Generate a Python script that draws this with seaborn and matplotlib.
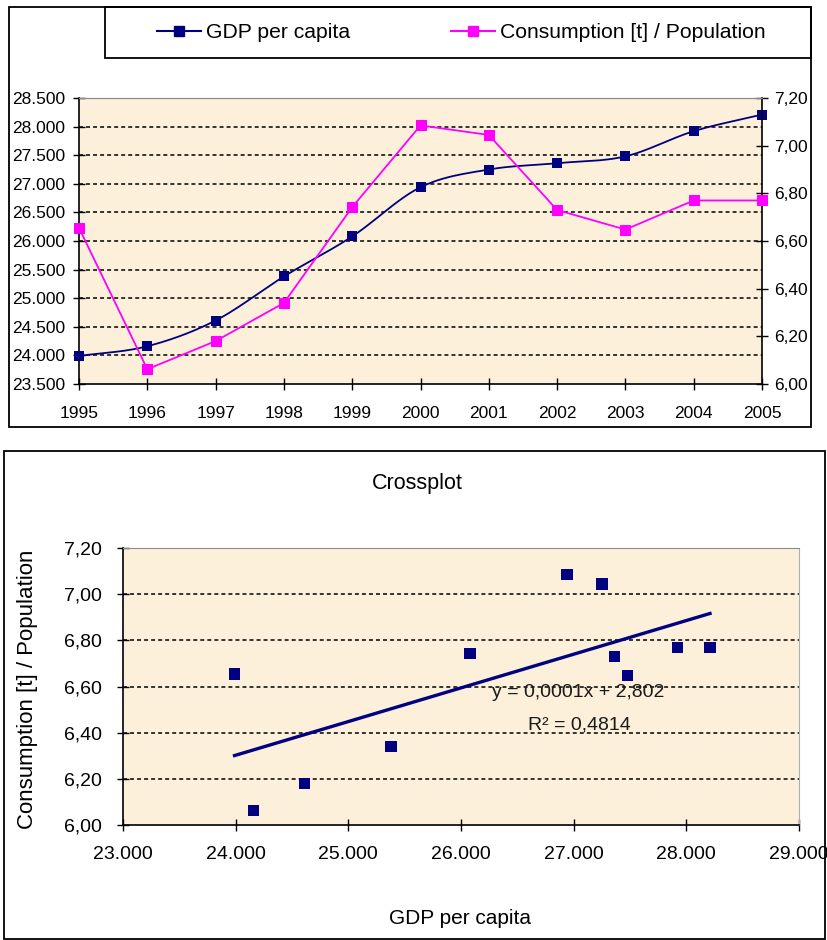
import numpy as np
import matplotlib
matplotlib.use("Agg")
import matplotlib.pyplot as plt
from matplotlib.lines import Line2D
from matplotlib.patches import Rectangle
from matplotlib.ticker import FuncFormatter, FixedLocator
import seaborn as sns

# ---- data -------------------------------------------------------------
years = [1995, 1996, 1997, 1998, 1999, 2000, 2001, 2002, 2003, 2004, 2005]
gdp_per_capita = [23990, 24160, 24610, 25380, 26080, 26940, 27250, 27360, 27480, 27920, 28210]
consumption_per_pop = [6.655, 6.062, 6.18, 6.34, 6.742, 7.085, 7.045, 6.73, 6.648, 6.77, 6.77]

gdp_ticks = [23500, 24000, 24500, 25000, 25500, 26000, 26500, 27000, 27500, 28000, 28500]
cons_ticks = [6.00, 6.20, 6.40, 6.60, 6.80, 7.00, 7.20]
cross_x_ticks = [23000, 24000, 25000, 26000, 27000, 28000, 29000]

label_gdp = "GDP per capita"
label_cons = "Consumption [t] / Population"
title_cross = "Crossplot"

# ---- style ------------------------------------------------------------
plt.rcParams["font.family"] = ["Liberation Sans", "DejaVu Sans"]
NAVY = "#000080"
MAGENTA = "#FF00FF"
PANEL_BG = "#FCF0DA"
GRID_DASH = (0, (2.6, 2.0))

W, H = 827, 940
fig = plt.figure(figsize=(W / 100, H / 100), dpi=100)


def fx(px):
    return px / W


def fy(py):
    return 1 - py / H


def frame(x0, y0, x1, y1, lw=1.3):
    fig.add_artist(Rectangle((fx(x0), fy(y1)), fx(x1) - fx(x0), fy(y0) - fy(y1),
                             transform=fig.transFigure, fill=False,
                             edgecolor="black", linewidth=lw, zorder=0))


def thousands(v, _):
    return f"{v:,.0f}".replace(",", ".")


def two_dec(v, _):
    return f"{v:.2f}".replace(".", ",")


def smooth_curve(x, y, n=24):
    """Smoothed line through the points (cubic Bezier, Catmull-Rom style)."""
    x = np.asarray(x, float)
    y = np.asarray(y, float)
    px = np.concatenate([[2 * x[0] - x[1]], x, [2 * x[-1] - x[-2]]])
    py = np.concatenate([[2 * y[0] - y[1]], y, [2 * y[-1] - y[-2]]])
    t = np.linspace(0, 1, n, endpoint=False)[:, None]
    xs, ys = [], []
    for i in range(1, len(px) - 2):
        p0 = np.array([px[i - 1], py[i - 1]])
        p1 = np.array([px[i], py[i]])
        p2 = np.array([px[i + 1], py[i + 1]])
        p3 = np.array([px[i + 2], py[i + 2]])
        c1 = p1 + (p2 - p0) / 6
        c2 = p2 - (p3 - p1) / 6
        b = ((1 - t) ** 3) * p1 + 3 * ((1 - t) ** 2) * t * c1 + 3 * (1 - t) * t ** 2 * c2 + t ** 3 * p2
        xs.append(b[:, 0])
        ys.append(b[:, 1])
    xs.append([x[-1]])
    ys.append([y[-1]])
    return np.concatenate(xs), np.concatenate(ys)


# ---- chart frames -----------------------------------------------------
frame(9, 7, 811, 427)
frame(105, 7, 811, 58)
frame(4, 451, 825, 939)

# ---- top: time series with two y axes ---------------------------------
ax1 = fig.add_axes([fx(79), fy(384), fx(762) - fx(79), fy(98) - fy(384)])
ax1.set_facecolor(PANEL_BG)
ax1.set_xlim(years[0], years[-1])
ax1.set_ylim(gdp_ticks[0], gdp_ticks[-1])
for v in gdp_ticks[1:-1]:
    ax1.axhline(v, color="black", linewidth=1.1, linestyle=GRID_DASH, zorder=1)

sx, sy = smooth_curve(years, gdp_per_capita)
ax1.plot(sx, sy, color=NAVY, linewidth=1.3, zorder=3, clip_on=False)
sns.scatterplot(x=years, y=gdp_per_capita, marker="s", s=52, color=NAVY,
                edgecolor=NAVY, linewidth=0, ax=ax1, zorder=4, clip_on=False)

ax1.xaxis.set_major_locator(FixedLocator(years))
ax1.yaxis.set_major_locator(FixedLocator(gdp_ticks))
ax1.yaxis.set_major_formatter(FuncFormatter(thousands))
ax1.tick_params(axis="y", direction="inout", length=8, width=1, color="black",
                labelsize=12.5, pad=6, left=True)
ax1.tick_params(axis="x", direction="inout", length=8, width=1, color="black",
                labelsize=12.5, pad=12, bottom=True)
ax1.spines["top"].set_color("#8a8a8a")
ax1.spines["right"].set_visible(False)
for s in ("left", "bottom"):
    ax1.spines[s].set_color("black")
    ax1.spines[s].set_linewidth(1.2)

ax2 = ax1.twinx()
sns.lineplot(x=years, y=consumption_per_pop, color=MAGENTA, linewidth=1.3,
             marker="s", markersize=7.5, markeredgecolor=MAGENTA,
             ax=ax2, zorder=5, clip_on=False)
ax2.set_ylim(cons_ticks[0], cons_ticks[-1])
ax2.yaxis.set_major_locator(FixedLocator(cons_ticks))
ax2.yaxis.set_major_formatter(FuncFormatter(two_dec))
ax2.tick_params(axis="y", direction="inout", length=8, width=1, color="black",
                labelsize=12.5, pad=5, right=True)
ax2.set_ylabel("")
ax2.spines["top"].set_color("#8a8a8a")
ax2.spines["left"].set_visible(False)
ax2.spines["bottom"].set_visible(False)
ax2.spines["right"].set_color("black")
ax2.spines["right"].set_linewidth(1.2)

handles = [
    Line2D([], [], color=NAVY, linewidth=1.5, marker="s", markersize=6.5),
    Line2D([], [], color=MAGENTA, linewidth=1.5, marker="s", markersize=6.5),
]
fig.legend(handles, [label_gdp, label_cons], loc="center left",
           bbox_to_anchor=(fx(157), fy(33)), ncol=2, frameon=False,
           fontsize=15.2, handlelength=2.1, handletextpad=0.2,
           columnspacing=4.8, borderpad=0, borderaxespad=0)

# ---- bottom: crossplot with linear trend ------------------------------
bx = fig.add_axes([fx(123), fy(825), fx(799) - fx(123), fy(548) - fy(825)])
bx.set_facecolor(PANEL_BG)
bx.set_xlim(cross_x_ticks[0], cross_x_ticks[-1])
bx.set_ylim(cons_ticks[0], cons_ticks[-1])
for v in cons_ticks[1:-1]:
    bx.axhline(v, color="black", linewidth=1.1, linestyle=GRID_DASH, zorder=1)

sns.regplot(x=gdp_per_capita, y=consumption_per_pop, ci=None, ax=bx,
            marker="s",
            scatter_kws=dict(s=68, color=NAVY, alpha=1, edgecolors="none", zorder=4),
            line_kws=dict(color=NAVY, linewidth=2.4, zorder=3))

slope, intercept = np.polyfit(gdp_per_capita, consumption_per_pop, 1)
r2 = np.corrcoef(gdp_per_capita, consumption_per_pop)[0, 1] ** 2
eq_text = f"y = {slope:.4f}x + {intercept:.3f}".replace(".", ",")
r2_text = f"R² = {r2:.4f}".replace(".", ",")
bx.text(27040, 6.572, eq_text, ha="center", va="center", fontsize=14, color="#1a1a1a", zorder=5)
bx.text(27050, 6.433, r2_text, ha="center", va="center", fontsize=14, color="#1a1a1a", zorder=5)

bx.xaxis.set_major_locator(FixedLocator(cross_x_ticks))
bx.xaxis.set_major_formatter(FuncFormatter(thousands))
bx.yaxis.set_major_locator(FixedLocator(cons_ticks))
bx.yaxis.set_major_formatter(FuncFormatter(two_dec))
bx.tick_params(axis="y", direction="inout", length=8, width=1, color="black",
               labelsize=14, pad=11, left=True)
bx.tick_params(axis="x", direction="inout", length=8, width=1, color="black",
               labelsize=14, pad=11, bottom=True)
bx.spines["top"].set_color("#8a8a8a")
bx.spines["right"].set_color("#b0b0b0")
for s in ("left", "bottom"):
    bx.spines[s].set_color("black")
    bx.spines[s].set_linewidth(1.2)

bx.set_xlabel(label_gdp, fontsize=15)
bx.xaxis.set_label_coords((460 - 123) / 676, (825 - 909) / 277)
bx.set_ylabel(label_cons, fontsize=16)
bx.yaxis.set_label_coords((38 - 123) / 676, (825 - 689) / 277)
fig.text(fx(417), fy(483), title_cross, ha="center", va="center", fontsize=15.5)

fig.savefig("out.png", dpi=100)
